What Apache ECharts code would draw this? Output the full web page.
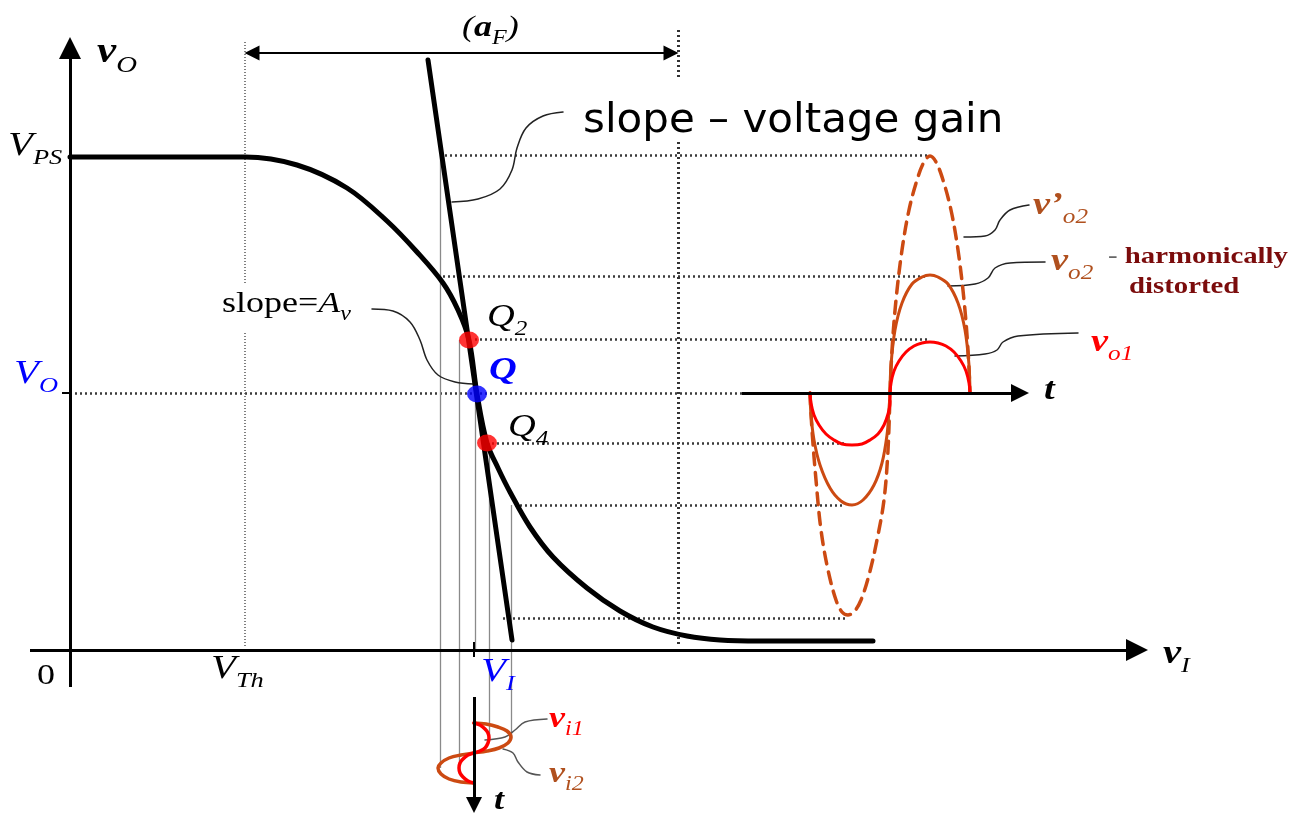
<!DOCTYPE html>
<html>
<head>
<meta charset="UTF-8">
<title>Amplifier transfer characteristic</title>
<script src="https://cdn.jsdelivr.net/npm/echarts@6/dist/echarts.min.js"></script>
<style>
  html, body { margin: 0; padding: 0; background: #fff; }
  #main { width: 1296px; height: 816px; }
</style>
</head>
<body>
<div id="main"></div>
<script type="text/javascript">
// diagram units: x grows right, y grows down, same extent as the picture

// v_O(v_I) transfer curve and its tangent at Q
var transferCurve = [[70,157],[245,157],[297,165],[347,188],[387,221],[417,252],[443,283],[458,310],[469,340],
  [477,394],[487,443],[498,468],[510,492],[530,527],[553,557],[587,588],[620,611],[653,627],[687,636],[720,640],[760,641],[873,641]];
var tangentLine = [[428,60],[512,640]];
var qPoints = [[469,340],[477,394],[487,443]];   // Q2, Q, Q4

// output waveforms (negative half, positive half)
var vo1Neg = [[810,393],[811,403],[814,415],[819,425],[826,434],[834,440],[842,444],[852,445],[862,444],[870,440],
  [878,434],[884,425],[888,414],[890,403],[890,393]];
var vo1Pos = [[890,393],[891,383],[894,371],[899,361],[906,352],[914,346],[922,343],[930,342],[938,343],[946,346],
  [954,352],[961,361],[966,371],[969,383],[970,393]];
var vo2Neg = [[810,393],[811,415],[814,440],[820,465],[830,488],[841,501],[852,505],[863,500],[874,485],[882,463],[887,435],[889,410],[890,393]];
var vo2Pos = [[890,393],[891,365],[895,330],[902,303],[912,284],[922,277],[930,275],[938,277],[948,284],[958,303],[965,330],[969,365],[970,393]];
var vo2LinNeg = [[810,393],[812,430],[816,480],[821,530],[828,570],[836,600],[842,612],[848,615],[854,612],[861,600],[869,575],[877,540],[884,500],[888,450],[890,393]];
var vo2LinPos = [[890,393],[892,350],[896,300],[902,250],[909,210],[917,180],[924,162],[930,156],[936,162],[943,180],[951,210],[958,250],[964,300],[968,350],[970,393]];

// input waveforms (time runs downwards)
var vi1 = [[474,723],[480,725],[485,729],[488,733],[489,738],[488,743],[485,748],[480,751],[474,753],
  [468,755],[463,759],[460,763],[459,768],[460,773],[463,777],[468,781],[474,783]];
var vi2 = [[474,723],[486,724],[498,727],[507,731],[511,737],[508,743],[499,748],[487,751],[474,753],
  [461,755],[449,758],[441,763],[438,768],[441,774],[449,779],[461,782],[474,783]];

// dotted level lines [y, xFrom, xTo]
var levelLines = [[155,445,930],[276,443,925],[339,475,930],[393,70,745],[443,492,845],[505,515,845],[618,503,845]];
// thin projection lines [x, yFrom, yTo]
var projLines = [[440,155,768],[459,340,768],[475,394,650],[489,443,738],[511,505,738]];
var thLines = [[245,42,285],[245,333,648]];
var afLines = [[678,30,78],[678,142,645]];

// arrows
var axisArrows = [[[30,650],[1137,650]], [[70,687],[70,48]]];
var dimArrow = [[252,53],[671,53]];
var tOutArrow = [[742,393],[1020,393]];
var tInArrow = [[474,697],[474,805]];
var ticks = [[[474,642],[474,657]], [[62,393],[70,393]]];

// leader lines
var leaders = [
  [[452,202],[478,199],[500,189],[512,170],[517,148],[526,128],[543,116],[563,112]],
  [[372,309],[393,311],[410,322],[420,340],[427,360],[438,375],[455,382],[474,384]],
  [[964,237],[985,236],[995,230],[1000,220],[1010,210],[1029,205]],
  [[948,286],[975,284],[988,278],[995,268],[1010,263],[1045,262]],
  [[955,356],[985,354],[997,350],[1003,342],[1018,336],[1078,333]]
];
var inLeaders = [
  [[485,740],[505,737],[515,730],[525,722],[547,719]],
  [[503,749],[513,753],[518,762],[527,772],[540,775]]
];

// text anchors [x, y, id]
var labelAnchors = [[97,55,'vO'],[8,148,'VPS'],[14,376,'VO'],[37,678,'zero'],[211,671,'VTh'],[481,674,'VI'],
  [1163,656,'vI'],[462,30,'aF'],[487,320,'Q2'],[489,373,'Q'],[508,430,'Q4'],[222,306,'slopeAv'],[583,122,'gain'],
  [1033,208,'vo2p'],[1051,264,'vo2'],[1108,259,'harm'],[1129,289,'dist'],[1091,345,'vo1'],[549,721,'vi1'],
  [549,776,'vi2'],[1044,393,'tOut'],[494,803,'tIn']];

var SERIF = '"Liberation Serif", "Times New Roman", serif';
var SANS = '"DejaVu Sans", Verdana, sans-serif';
var RED = '#ff0000', BLUE = '#0000ff', ORANGE = '#cc4a12', BROWN = '#b0501e', DARKRED = '#7b0c0c';

function richSet(color, size) {
  var sub = Math.round(size * 0.66);
  var base = { fill: color, fontFamily: SERIF, fontSize: size, lineHeight: size + 4, verticalAlign: 'top' };
  return {
    m: Object.assign({}, base, { fontStyle: 'italic' }),
    b: Object.assign({}, base, { fontStyle: 'italic', fontWeight: 'bold' }),
    u: Object.assign({}, base),
    h: Object.assign({}, base, { fill: DARKRED, fontWeight: 'bold' }),
    s: { fill: color, fontFamily: SERIF, fontStyle: 'italic', fontSize: sub, lineHeight: sub + 4,
         padding: [Math.round(size * 0.54), 0, 0, 0], verticalAlign: 'top' }
  };
}

var labelSpec = {
  vO: { text: '{b|v}{s|O}', color: '#000', size: 36 },
  VPS: { text: '{m|V}{s|PS}', color: '#000', size: 34 },
  VO: { text: '{m|V}{s|O}', color: BLUE, size: 34 },
  zero: { text: '{u|0}', color: '#000', size: 30 },
  VTh: { text: '{m|V}{s|Th}', color: '#000', size: 34 },
  VI: { text: '{m|V}{s|I}', color: BLUE, size: 34 },
  vI: { text: '{b|v}{s|I}', color: '#000', size: 34 },
  aF: { text: '{m|(}{b|a}{s|F}{m|)}', color: '#000', size: 30 },
  Q2: { text: '{m|Q}{s|2}', color: '#000', size: 32 },
  Q: { text: '{b|Q}', color: BLUE, size: 32 },
  Q4: { text: '{m|Q}{s|4}', color: '#000', size: 32 },
  slopeAv: { text: '{u|slope=}{m|A}{s|v}', color: '#000', size: 30 },
  vo2p: { text: '{b|v’}{s|o2}', color: BROWN, size: 32 },
  vo2: { text: '{b|v}{s|o2}', color: BROWN, size: 32 },
  harm: { text: '{u|- }{h|harmonically}', color: '#666', size: 24 },
  dist: { text: '{h|distorted}', color: DARKRED, size: 24 },
  vo1: { text: '{b|v}{s|o1}', color: RED, size: 32 },
  vi1: { text: '{b|v}{s|i1}', color: RED, size: 30 },
  vi2: { text: '{b|v}{s|i2}', color: BROWN, size: 30 },
  tOut: { text: '{b|t}', color: '#000', size: 32 },
  tIn: { text: '{b|t}', color: '#000', size: 30 }
};

function curve(points, color, width, type, z) {
  return { type: 'line', data: points, symbol: 'none', smooth: 0.35, silent: true, animation: false,
    z: z || 3, lineStyle: { color: color, width: width, type: type || 'solid', cap: 'round' } };
}
function segments(list, color, width, type, z) {
  return { type: 'lines', coordinateSystem: 'cartesian2d', silent: true, animation: false, z: z || 1,
    data: list.map(function (c) { return { coords: c }; }),
    lineStyle: { color: color, width: width, type: type || 'solid', opacity: 1 } };
}
function arrows(list, width, size, both) {
  var s = segments(list, '#000', width, 'solid', 4);
  s.symbol = both ? ['triangle', 'triangle'] : ['none', 'triangle'];
  s.symbolSize = size;
  s.itemStyle = { color: '#000' };
  return s;
}

var series = [];
series.push(segments(levelLines.map(function (l) { return [[l[1], l[0]], [l[2], l[0]]]; }), '#3a3a3a', 2.5, [2, 3], 1));
series.push(segments(projLines.map(function (l) { return [[l[0], l[1]], [l[0], l[2]]]; }), '#8a8a8a', 1.3, 'solid', 1));
series.push(segments(thLines.map(function (l) { return [[l[0], l[1]], [l[0], l[2]]]; }), '#555', 1.5, [1, 2], 1));
series.push(segments(afLines.map(function (l) { return [[l[0], l[1]], [l[0], l[2]]]; }), '#333', 3, [2, 3], 1));
series.push(arrows(axisArrows, 3, 22, false));
series.push(arrows([dimArrow], 2, 15, true));
series.push(arrows([tOutArrow], 3, 18, false));
series.push(arrows([tInArrow], 3, 16, false));
series.push(segments(ticks, '#000', 2, 'solid', 4));
leaders.forEach(function (p) { series.push(curve(p, '#222', 1.5, 'solid', 2)); });
inLeaders.forEach(function (p) { series.push(curve(p, '#555', 1.5, 'solid', 2)); });
series.push(curve(transferCurve, '#000', 5, 'solid', 3));
series.push(Object.assign(curve(tangentLine, '#000', 5, 'solid', 3), { smooth: false }));
series.push(curve(vo2LinNeg, ORANGE, 3.5, [12, 8], 3));
series.push(curve(vo2LinPos, ORANGE, 3.5, [12, 8], 3));
series.push(curve(vo2Neg, ORANGE, 3, 'solid', 3));
series.push(curve(vo2Pos, ORANGE, 3, 'solid', 3));
series.push(curve(vo1Neg, RED, 3, 'solid', 3));
series.push(curve(vo1Pos, RED, 3, 'solid', 3));
series.push(curve(vi2, ORANGE, 3.5, 'solid', 3));
series.push(curve(vi1, RED, 3.5, 'solid', 3));

var dotColors = [RED, BLUE, RED];
series.push({
  type: 'scatter', silent: true, animation: false, z: 6, symbolSize: [20, 17],
  data: qPoints.map(function (p, i) { return { value: p, itemStyle: { color: dotColors[i] } }; })
});

series.push({
  type: 'custom', silent: true, animation: false, z: 10,
  data: labelAnchors.map(function (r) { return [r[0], r[1]]; }),
  encode: { x: 0, y: 1 },
  renderItem: function (params, api) {
    var row = labelAnchors[params.dataIndex];
    var spec = labelSpec[row[2]];
    var pt = api.coord([row[0], row[1]]);
    if (row[2] === 'gain') {
      return { type: 'text', x: pt[0], y: pt[1], scaleX: 1.05,
        style: { text: 'slope – voltage gain', fill: '#000', fontFamily: SANS, fontSize: 40,
                 align: 'left', verticalAlign: 'middle' } };
    }
    // top of the block sits half a main line above the anchor, so the main glyph is centred on it
    return { type: 'text', x: pt[0], y: pt[1] - (spec.size + 4) / 2, scaleX: 1.2,
      style: { text: spec.text, rich: richSet(spec.color, spec.size), fill: spec.color, fontFamily: SERIF,
               fontSize: spec.size, align: 'left', verticalAlign: 'top' } };
  }
});

var myChart = echarts.init(document.getElementById('main'));
myChart.setOption({
  backgroundColor: '#fff',
  animation: false,
  grid: { left: 0, right: 0, top: 0, bottom: 0 },
  xAxis: { type: 'value', min: 0, max: 1296, show: false },
  yAxis: { type: 'value', min: 0, max: 816, inverse: true, show: false },
  series: series
});
</script>
</body>
</html>
